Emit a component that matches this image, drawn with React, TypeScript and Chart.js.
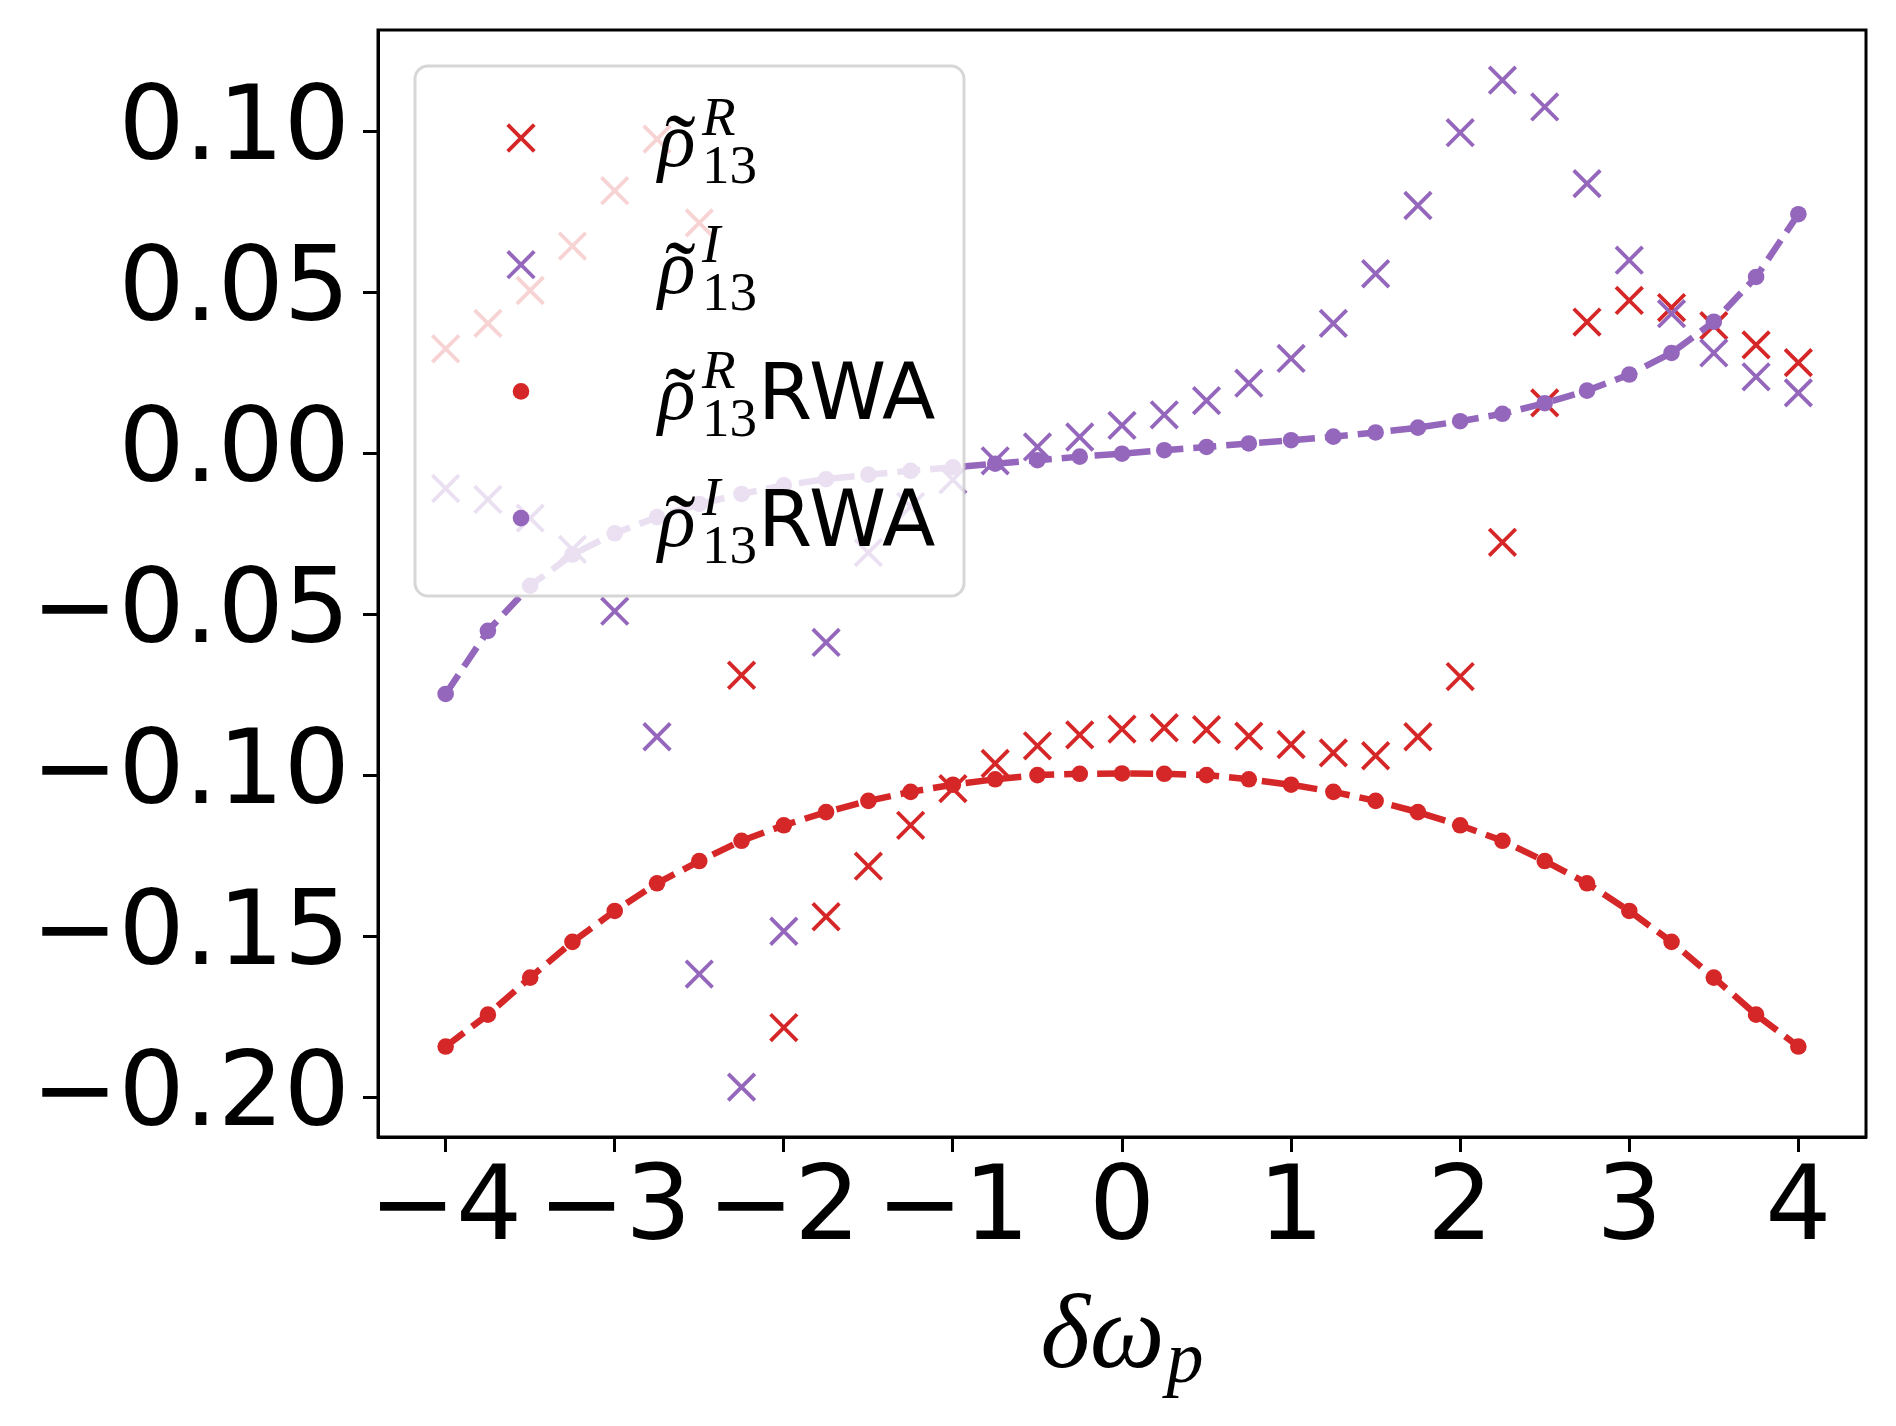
import React, { useEffect, useRef } from 'react';
import { Chart, registerables } from 'chart.js';

Chart.register(...registerables);

// ---------------- data ----------------
const DELTA_OMEGA = [
  -4, -3.75, -3.5, -3.25, -3, -2.75, -2.5, -2.25, -2, -1.75, -1.5, -1.25, -1, -0.75, -0.5, -0.25,
  0, 0.25, 0.5, 0.75, 1, 1.25, 1.5, 1.75, 2, 2.25, 2.5, 2.75, 3, 3.25, 3.5, 3.75, 4,
];

const RHO_R = [
  0.0326, 0.0405, 0.0507, 0.0645, 0.0817, 0.0977, 0.0717, -0.0688, -0.1782, -0.1438, -0.1281, -0.1154,
  -0.104, -0.0962, -0.0907, -0.0873, -0.0855, -0.0851, -0.0857, -0.0877, -0.0903, -0.0929, -0.0938,
  -0.0879, -0.0692, -0.0275, 0.0158, 0.0409, 0.0476, 0.0454, 0.0398, 0.0338, 0.0283,
];

const RHO_I = [
  -0.0108, -0.0142, -0.02, -0.0297, -0.0489, -0.0879, -0.1616, -0.1967, -0.1483, -0.0586, -0.0307,
  -0.0164, -0.0081, -0.0022, 0.0021, 0.0052, 0.0088, 0.0121, 0.0165, 0.0219, 0.0296, 0.0405, 0.0559,
  0.0771, 0.0997, 0.116, 0.1077, 0.0839, 0.0601, 0.0435, 0.0313, 0.0239, 0.0189,
];

const RHO_R_RWA = [
  -0.1841, -0.1742, -0.1627, -0.1516, -0.142, -0.1334, -0.1265, -0.1202, -0.1154, -0.1113, -0.1078,
  -0.105, -0.1028, -0.1011, -0.0998, -0.0994, -0.0993, -0.0994, -0.0998, -0.1011, -0.1028, -0.105,
  -0.1078, -0.1113, -0.1154, -0.1202, -0.1265, -0.1334, -0.142, -0.1516, -0.1627, -0.1742, -0.1841,
];

const RHO_I_RWA = [
  -0.0746, -0.055, -0.041, -0.0313, -0.0247, -0.0197, -0.0156, -0.0125, -0.0098, -0.0079, -0.0065,
  -0.0053, -0.0042, -0.0031, -0.002, -0.0009, 0, 0.0011, 0.0021, 0.0032, 0.0042, 0.0053, 0.0066,
  0.0081, 0.0101, 0.0124, 0.0157, 0.0196, 0.0246, 0.0313, 0.041, 0.0549, 0.0744,
];

const SERIES_SUPERSCRIPT = ['R', 'I', 'R', 'I'];
const SERIES_SUFFIX = ['', '', 'RWA', 'RWA'];
const SERIES_MARKER = ['x', 'x', 'o', 'o'];

const RED = '#d62728';
const PURPLE = '#9467bd';
const SERIES_COLOR = [RED, PURPLE, RED, PURPLE];

const X_MIN = -4.4;
const X_MAX = 4.4;
const Y_MIN = -0.2122;
const Y_MAX = 0.1316;

const TICK_FONT = 'DejaVu Sans';
const MATH_FONT = 'Liberation Serif';

const CROSS_HALF = 13.3;
const CROSS_WIDTH = 3.8;
const DOT_RADIUS = 8.3;

const toPoints = (ys: number[]) => DELTA_OMEGA.map((x, i) => ({ x, y: ys[i] }));
const fmtMinus = (s: string) => s.replace('-', '\u2212');

// ---------------- plugins ----------------
const framePlugin = {
  id: 'frame',
  afterDatasetsDraw(chart: any) {
    const { ctx, chartArea: ca } = chart;
    ctx.save();
    ctx.strokeStyle = '#000';
    ctx.lineWidth = 3;
    ctx.strokeRect(ca.left, ca.top, ca.right - ca.left, ca.bottom - ca.top);
    ctx.restore();
  },
};

function drawTilde(ctx: CanvasRenderingContext2D, cx: number, cy: number, size: number) {
  ctx.font = `${size}px "${MATH_FONT}"`;
  const m = ctx.measureText('\u02DC');
  const w = m.actualBoundingBoxRight + m.actualBoundingBoxLeft;
  const x = cx - w / 2 + m.actualBoundingBoxLeft;
  const y = cy + (m.actualBoundingBoxAscent - m.actualBoundingBoxDescent) / 2;
  ctx.fillText('\u02DC', x, y);
}

const legendPlugin = {
  id: 'mplLegend',
  afterDraw(chart: any) {
    const { ctx, chartArea: ca } = chart;
    const bx = ca.left + 37;
    const by = ca.top + 36;
    const bw = 549;
    const bh = 530;
    ctx.save();
    ctx.beginPath();
    (ctx as any).roundRect(bx, by, bw, bh, 13);
    ctx.fillStyle = 'rgba(255,255,255,0.8)';
    ctx.fill();
    ctx.lineWidth = 3;
    ctx.strokeStyle = 'rgba(204,204,204,0.8)';
    ctx.stroke();

    SERIES_SUPERSCRIPT.forEach((sup, i) => {
      const cy = by + 72 + i * 126.7;
      const mx = bx + 106;
      const color = SERIES_COLOR[i];
      if (SERIES_MARKER[i] === 'x') {
        ctx.strokeStyle = color;
        ctx.lineWidth = CROSS_WIDTH;
        const h = CROSS_HALF;
        ctx.beginPath();
        ctx.moveTo(mx - h, cy - h);
        ctx.lineTo(mx + h, cy + h);
        ctx.moveTo(mx - h, cy + h);
        ctx.lineTo(mx + h, cy - h);
        ctx.stroke();
      } else {
        ctx.fillStyle = color;
        ctx.beginPath();
        ctx.arc(mx, cy, DOT_RADIUS, 0, Math.PI * 2);
        ctx.fill();
      }
      const tx = bx + 243;
      const base = cy + 28;
      ctx.fillStyle = '#000';
      ctx.textAlign = 'left';
      ctx.textBaseline = 'alphabetic';
      ctx.font = `italic 78px "${MATH_FONT}"`;
      ctx.fillText('\u03C1', tx, base);
      drawTilde(ctx, tx + 22, base - 45, 92);
      ctx.font = `italic 55px "${MATH_FONT}"`;
      ctx.fillText(sup, tx + 44, base - 31);
      ctx.font = `55px "${MATH_FONT}"`;
      ctx.fillText('13', tx + 44, base + 17);
      if (SERIES_SUFFIX[i]) {
        ctx.font = `78px "${TICK_FONT}"`;
        ctx.fillText(SERIES_SUFFIX[i], tx + 100, base);
      }
    });
    ctx.restore();
  },
};

const xTitlePlugin = {
  id: 'xTitle',
  afterDraw(chart: any) {
    const { ctx, chartArea: ca } = chart;
    ctx.save();
    ctx.fillStyle = '#000';
    ctx.textAlign = 'left';
    ctx.textBaseline = 'alphabetic';
    ctx.font = `italic 106px "${MATH_FONT}"`;
    const main = '\u03B4\u03C9';
    const w1 = ctx.measureText(main).width;
    ctx.font = `italic 74px "${MATH_FONT}"`;
    const w2 = ctx.measureText('p').width;
    const cx = (ca.left + ca.right) / 2;
    const x0 = cx - (w1 + w2 + 2) / 2;
    const base = ca.bottom + 230;
    ctx.font = `italic 106px "${MATH_FONT}"`;
    ctx.fillText(main, x0, base);
    ctx.font = `italic 74px "${MATH_FONT}"`;
    ctx.fillText('p', x0 + w1 + 2, base + 15);
    ctx.restore();
  },
};

export default function App() {
  const ref = useRef<HTMLCanvasElement>(null);

  useEffect(() => {
    document.body.style.margin = '0';
    const canvas = ref.current;
    if (!canvas) return;
    const crossRadius = CROSS_HALF / Math.SQRT1_2;
    const chart = new Chart(canvas, {
      type: 'scatter',
      data: {
        datasets: [
          {
            label: 'rhoR',
            data: toPoints(RHO_R),
            showLine: false,
            pointStyle: 'crossRot',
            pointRadius: crossRadius,
            pointBorderWidth: CROSS_WIDTH,
            borderColor: RED,
            backgroundColor: RED,
            order: 4,
          },
          {
            label: 'rhoI',
            data: toPoints(RHO_I),
            showLine: false,
            pointStyle: 'crossRot',
            pointRadius: crossRadius,
            pointBorderWidth: CROSS_WIDTH,
            borderColor: PURPLE,
            backgroundColor: PURPLE,
            order: 3,
          },
          {
            label: 'rhoR RWA',
            data: toPoints(RHO_R_RWA),
            showLine: true,
            borderColor: RED,
            borderWidth: 6.5,
            borderDash: [23, 10],
            pointStyle: 'circle',
            pointRadius: DOT_RADIUS,
            pointBorderWidth: 0,
            pointBackgroundColor: RED,
            tension: 0,
            order: 2,
          },
          {
            label: 'rhoI RWA',
            data: toPoints(RHO_I_RWA),
            showLine: true,
            borderColor: PURPLE,
            borderWidth: 6.5,
            borderDash: [23, 10],
            pointStyle: 'circle',
            pointRadius: DOT_RADIUS,
            pointBorderWidth: 0,
            pointBackgroundColor: PURPLE,
            tension: 0,
            order: 1,
          },
        ],
      },
      options: {
        responsive: false,
        animation: false,
        events: [],
        layout: { padding: { left: 0, right: 30, top: 30, bottom: 0 } },
        plugins: {
          legend: { display: false },
          tooltip: { enabled: false },
        },
        scales: {
          x: {
            type: 'linear',
            min: X_MIN,
            max: X_MAX,
            afterFit: (scale: any) => {
              scale.height = 289;
            },
            border: { display: true, color: '#000', width: 3 },
            grid: {
              drawOnChartArea: false,
              drawTicks: true,
              tickLength: 15,
              tickWidth: 3,
              tickColor: '#000',
            },
            ticks: {
              stepSize: 1,
              includeBounds: false,
              autoSkip: false,
              maxRotation: 0,
              minRotation: 0,
              padding: 8,
              color: '#000',
              font: { family: TICK_FONT, size: 104, lineHeight: 1 },
              callback: (v: any) => fmtMinus(String(Math.round(Number(v)))),
            },
          },
          y: {
            type: 'linear',
            min: Y_MIN,
            max: Y_MAX,
            afterFit: (scale: any) => {
              scale.width = 378;
            },
            border: { display: true, color: '#000', width: 3 },
            grid: {
              drawOnChartArea: false,
              drawTicks: true,
              tickLength: 15,
              tickWidth: 3,
              tickColor: '#000',
            },
            ticks: {
              stepSize: 0.05,
              includeBounds: false,
              autoSkip: false,
              padding: 13,
              color: '#000',
              font: { family: TICK_FONT, size: 104, lineHeight: 0.2 },
              callback: (v: any) => {
                const n = Number(v);
                if (Math.abs(n) < 1e-9) return '0.00';
                return fmtMinus(n.toFixed(2));
              },
            },
          },
        },
      },
      plugins: [framePlugin, legendPlugin, xTitlePlugin],
    } as any);
    return () => chart.destroy();
  }, []);

  return (
    <div style={{ position: 'absolute', left: 0, top: 0, width: 1896, height: 1426, background: '#fff' }}>
      <canvas ref={ref} width={1896} height={1426} style={{ display: 'block', width: 1896, height: 1426 }} />
    </div>
  );
}
